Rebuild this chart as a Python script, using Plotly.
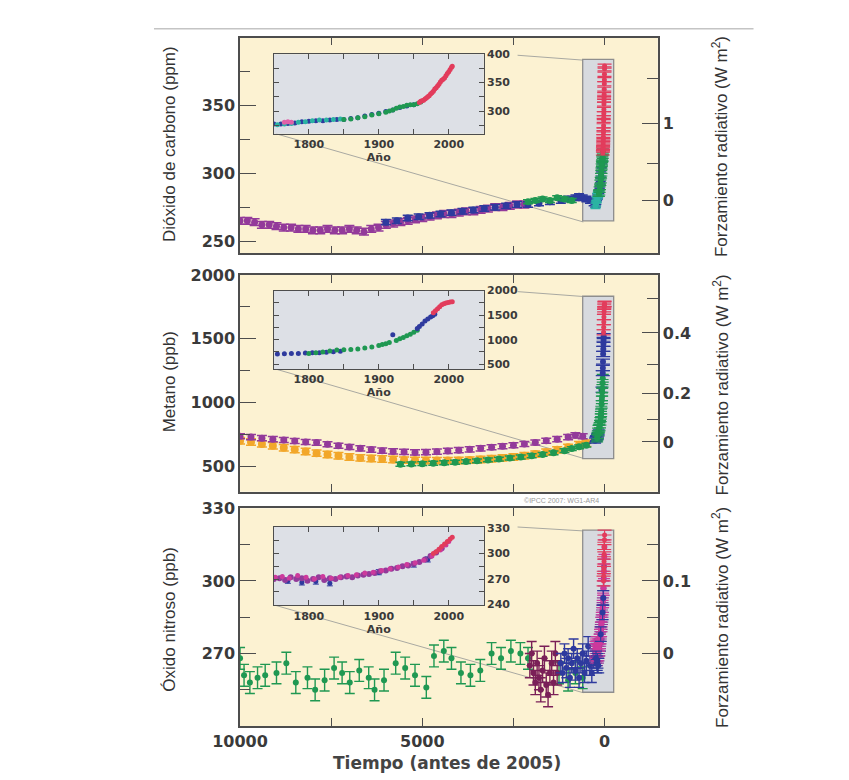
import plotly.graph_objects as go

# ---------------- DATA ----------------
# CO2 main panel (years before 2005, ppm)
co2_purple_bp = [10000,9800,9600,9400,9200,9000,8800,8600,8400,8200,8000,7800,7600,7400,7200,7000,6800,6600,6400,6200,6000,5800,5600,5400,5200,5000,4800,4600,4400,4200,4000,3800,3600,3400,3200,3000,2800,2600,2400,2200]
co2_purple_ppm = [265,265,264,262,262,261,260,260,259,259,258,258,259,258,258,259,258,257,259,260,262,263,264,265,266,267,268,269,270,270,271,272,272,273,274,275,275,276,277,277]
co2_blue_bp = [6000,5700,5400,5100,4800,4500,4200,3900,3600,3300,3000,2700,2400,2100,1800,1500,1200,1000,800,700,600,500,400,300]
co2_blue_ppm = [264,265,267,268,269,270,271,272,273,274,275,276,277,277,278,279,280,281,282,283,282,281,280,278]
co2_green_bp = [2100,1900,1700,1500,1300,1100,900]
co2_green_ppm = [279,280,281,280,282,281,280]
# CO2 inset (year AD, ppm)
co2_ins_blue_yr = [1750,1760,1770,1780,1790,1800,1810,1820,1830,1840,1850,1860,1870,1880,1890,1900,1910,1920,1930,1940,1950]
co2_ins_blue_ppm = [277,277,278,279,281,282,283,283,284,285,285,287,288,291,294,296,299,302,306,309,311]
co2_ins_cyan_yr = [1755,1765,1775,1785,1795,1805,1815,1825,1835,1845]
co2_ins_cyan_ppm = [276,277,278,280,281,283,284,284,285,286]
co2_ins_green_yr = [1850,1860,1870,1880,1890,1900,1910,1915,1920,1925,1930,1935,1940,1945,1950,1955,1960]
co2_ins_green_ppm = [285,286,288,290,293,295,298,300,302,305,307,308,310,311,311,313,316]
co2_ins_pink_yr = [1765,1770,1775]
co2_ins_pink_ppm = [280,281,280]
co2_ins_red_yr = [1958,1960,1962,1964,1966,1968,1970,1972,1974,1976,1978,1980,1982,1984,1986,1988,1990,1992,1994,1996,1998,2000,2002,2004,2005]
co2_ins_red_ppm = [315,317,318,319,321,323,325,327,330,332,335,339,341,344,347,351,354,356,358,362,366,369,373,377,379]

# CH4 main panel (years before 2005, ppb)
ch4_purple_bp = [10000,9700,9400,9100,8800,8500,8200,7900,7600,7300,7000,6700,6400,6100,5800,5500,5200,4900,4600,4300,4000,3700,3400,3100,2800,2500,2200,1900,1600,1300,1000,800,600]
ch4_purple_ppb = [735,728,720,712,705,698,690,685,672,660,650,640,630,622,616,612,608,610,614,620,626,632,640,648,656,664,674,686,700,712,728,742,735]
ch4_orange_bp = [10000,9700,9400,9100,8800,8500,8200,7900,7600,7300,7000,6700,6400,6100,5800,5500,5200,4900,4600,4300,4000,3700,3400,3100,2800,2500,2200,1900,1600,1300,1000,700,500]
ch4_orange_ppb = [700,690,675,660,645,630,615,602,592,582,572,565,560,556,552,548,546,545,544,544,545,548,552,558,565,572,582,595,610,628,648,668,680]
ch4_green_bp = [5600,5300,5000,4700,4400,4100,3800,3500,3200,2900,2600,2300,2000,1700,1400,1100,900,700,500]
ch4_green_ppb = [515,518,520,523,527,531,536,542,549,556,564,572,582,592,605,622,638,652,665]
# CH4 inset (year AD, ppb)
ch4_ins_blue_yr = [1745,1755,1765,1775,1785,1795,1805,1815,1825,1835,1845,1920]
ch4_ins_blue_ppb = [700,708,714,720,716,726,735,731,742,756,765,1100]
ch4_ins_green_yr = [1800,1810,1820,1830,1840,1850,1860,1870,1880,1890,1900,1905,1910,1915,1925,1930,1935,1940,1945,1950,1955]
ch4_ins_green_ppb = [720,735,748,768,790,792,800,812,830,852,880,900,918,940,985,1020,1045,1080,1110,1150,1190]
ch4_ins_blue2_yr = [1955,1958,1962,1966,1970,1974,1977,1980]
ch4_ins_blue2_ppb = [1230,1270,1320,1380,1420,1460,1490,1520]
ch4_ins_red_yr = [1978,1981,1984,1987,1990,1993,1996,1999,2002,2005]
ch4_ins_red_ppb = [1550,1590,1630,1670,1710,1730,1750,1760,1770,1774]

# N2O main panel (years before 2005, ppb)
n2o_green_bp = [10000,9890,9730,9520,9310,9000,8730,8470,8150,7940,7680,7420,7200,6990,6730,6470,6310,6050,5730,5470,5200,4890,4680,4410,4200,3940,3680,3410,3100,2840,2570,2310,2100,1250,1000,800,600]
n2o_green_ppb = [268,261,258,260,261,262,266,258,260,255,259,264,262,258,263,260,255,259,266,264,261,256,269,271,268,262,261,263,270,268,271,270,268,262,259,262,260]
n2o_maroon_bp = [2050,2000,1950,1900,1850,1800,1750,1700,1650,1600,1550,1500,1450,1400,1350,1300]
n2o_maroon_ppb = [265,270,262,258,266,260,255,263,268,257,253,262,266,258,270,262]
n2o_blue_bp = [1200,1150,1100,1050,1000,950,900,850,800,750,700,650,600,550,500,450,400,350,300,250,200,150,100]
n2o_blue_ppb = [266,262,270,264,268,260,266,272,263,268,260,266,270,262,267,273,265,262,268,271,266,272,275]
# N2O inset (year AD, ppb)
n2o_ins_purple_yr = [1750,1758,1766,1774,1782,1790,1798,1806,1814,1822,1830,1838,1846,1854,1862,1870,1878,1886,1894,1902,1910,1918,1926,1934,1942,1950,1958,1966,1974,1982,1990]
n2o_ins_purple_ppb = [270,271,269,272,270,271,268,270,272,269,271,270,272,273,272,274,275,276,277,279,280,282,283,285,286,288,290,293,297,301,306]
n2o_ins_magenta_yr = [1752,1762,1772,1784,1796,1808,1820,1832,1844,1856,1868,1880,1892,1904,1916,1928,1940,1952,1964,1976,1988,1996,2000]
n2o_ins_magenta_ppb = [272,273,271,274,272,270,273,271,272,274,275,277,278,280,282,284,287,289,292,297,304,310,314]
n2o_ins_blue_yr = [1770,1790,1810,1830,1900,1950,1970]
n2o_ins_blue_ppb = [268,266,267,265,278,287,293]
n2o_ins_red_yr = [1978,1982,1986,1990,1994,1998,2002,2005]
n2o_ins_red_ppb = [300,302,305,308,311,314,317,319]

# Radiative forcing tick positions (concentration values where RF ticks sit)
co2_rf_major_at = [280, 337]
co2_rf_major_txt = ["0", "1"]
co2_rf_minor_at = [307, 370]
ch4_rf_major_at = [690, 1070, 1545]
ch4_rf_major_txt = ["0", "0.2", "0.4"]
ch4_rf_minor_at = [870, 1300, 1815]
n2o_rf_major_at = [270, 300]
n2o_rf_major_txt = ["0", "0.1"]
n2o_rf_minor_at = [285, 315]

# Time axis ticks (years before 2005)
time_major = [10000, 5000, 0]
time_major_txt = ["10000", "5000", "0"]
time_minor = [7500, 2500]

REF_YEAR = 2005

# ---------------- STYLE ----------------
W, H = 849, 780
OFF = 8  # page body margin of the html page
CREAM = "#fcf2d2"
INSET_BG = "#dde0e6"
BOX_FILL = "#d7dadf"
AXC = "#4d4d4d"
TXT = "#3a3a3a"
PURPLE = "#933a9a"
BLUE = "#2e3a9e"
GREEN = "#1f9852"
TEAL = "#2bb3a3"
RED = "#e23c5c"
PINK = "#e060a8"
ORANGE = "#f2a72a"
MAROON = "#7a2058"
MAGENTA = "#cc3a9c"

def px2x(px):
    return (px - OFF) / W

def px2y(py):
    return 1 - (py - OFF) / H

def bp(years):
    return [REF_YEAR - y for y in years]

fig = go.Figure()

def pts(xs, ys, color, xa, ya, err=None, size=5, capw=4, thick=1.2, symbol="circle"):
    tr = go.Scatter(x=xs, y=ys, mode="markers",
                    marker=dict(color=color, size=size, symbol=symbol, line=dict(width=0)),
                    xaxis=xa, yaxis=ya, showlegend=False, hoverinfo="skip")
    if err is not None:
        tr.error_y = dict(type="constant", value=err, color=color, thickness=thick, width=capw)
    fig.add_trace(tr)

# Panel 1: CO2
pts(co2_purple_bp, co2_purple_ppm, PURPLE, "x", "y", err=2.5, size=7, capw=5, thick=1.5)
pts(co2_blue_bp, co2_blue_ppm, BLUE, "x", "y", err=2, size=7, capw=5, thick=1.5)
pts(co2_green_bp, co2_green_ppm, GREEN, "x", "y", err=1.5, size=7, capw=5, thick=1.5)
pts(bp(co2_ins_blue_yr), co2_ins_blue_ppm, BLUE, "x", "y", err=2, size=6, capw=5)
pts(bp(co2_ins_cyan_yr), co2_ins_cyan_ppm, TEAL, "x", "y", err=2, size=6, capw=5)
pts(bp(co2_ins_green_yr), co2_ins_green_ppm, GREEN, "x", "y", err=2, size=6, capw=6)
pts(bp(co2_ins_red_yr), co2_ins_red_ppm, RED, "x", "y", err=1.5, size=5, capw=7)
fig.add_trace(go.Scatter(x=[None], y=[None], xaxis="x", yaxis="y2", showlegend=False, hoverinfo="skip"))
# CO2 inset
pts(co2_ins_blue_yr, co2_ins_blue_ppm, BLUE, "x4", "y7", size=5)
pts(co2_ins_cyan_yr, co2_ins_cyan_ppm, TEAL, "x4", "y7", size=5)
pts(co2_ins_green_yr, co2_ins_green_ppm, GREEN, "x4", "y7", size=5)
pts(co2_ins_pink_yr, co2_ins_pink_ppm, PINK, "x4", "y7", size=5)
pts(co2_ins_red_yr, co2_ins_red_ppm, RED, "x4", "y7", size=5)

# Panel 2: CH4
pts(ch4_orange_bp, ch4_orange_ppb, ORANGE, "x2", "y3", err=25, size=8, capw=5, thick=1.5)
pts(ch4_purple_bp, ch4_purple_ppb, PURPLE, "x2", "y3", err=20, size=7, capw=5, thick=1.5)
pts(ch4_green_bp, ch4_green_ppb, GREEN, "x2", "y3", err=15, size=7, capw=5, thick=1.5)
pts(bp(ch4_ins_blue_yr), ch4_ins_blue_ppb, BLUE, "x2", "y3", err=20, size=6, capw=6)
pts(bp(ch4_ins_green_yr), ch4_ins_green_ppb, GREEN, "x2", "y3", err=30, size=6, capw=6)
pts(bp(ch4_ins_blue2_yr), ch4_ins_blue2_ppb, BLUE, "x2", "y3", err=20, size=6, capw=7)
pts(bp(ch4_ins_red_yr), ch4_ins_red_ppb, RED, "x2", "y3", err=20, size=5, capw=7)
fig.add_trace(go.Scatter(x=[None], y=[None], xaxis="x2", yaxis="y4", showlegend=False, hoverinfo="skip"))
# CH4 inset
pts(ch4_ins_blue_yr, ch4_ins_blue_ppb, BLUE, "x5", "y8", size=5)
pts(ch4_ins_green_yr, ch4_ins_green_ppb, GREEN, "x5", "y8", size=5)
pts(ch4_ins_blue2_yr, ch4_ins_blue2_ppb, BLUE, "x5", "y8", size=5)
pts(ch4_ins_red_yr, ch4_ins_red_ppb, RED, "x5", "y8", size=5)

# Panel 3: N2O
pts(n2o_green_bp, n2o_green_ppb, GREEN, "x3", "y5", err=4.5, size=6, capw=5, thick=1.4)
pts(n2o_maroon_bp, n2o_maroon_ppb, MAROON, "x3", "y5", err=5, size=6, capw=5, thick=1.4)
pts(n2o_blue_bp, n2o_blue_ppb, BLUE, "x3", "y5", err=4, size=6, capw=5, thick=1.4)
pts(bp(n2o_ins_purple_yr), n2o_ins_purple_ppb, PURPLE, "x3", "y5", err=3, size=6, capw=6)
pts(bp(n2o_ins_magenta_yr), n2o_ins_magenta_ppb, MAGENTA, "x3", "y5", err=3, size=6, capw=6)
pts(bp(n2o_ins_blue_yr), n2o_ins_blue_ppb, BLUE, "x3", "y5", err=3, size=6, capw=6)
pts(bp(n2o_ins_red_yr), n2o_ins_red_ppb, RED, "x3", "y5", err=2, size=5, capw=7)
fig.add_trace(go.Scatter(x=[None], y=[None], xaxis="x3", yaxis="y6", showlegend=False, hoverinfo="skip"))
# N2O inset
pts(n2o_ins_blue_yr, n2o_ins_blue_ppb, BLUE, "x6", "y9", err=3, size=5, capw=3, thick=1)
pts(n2o_ins_purple_yr, n2o_ins_purple_ppb, PURPLE, "x6", "y9", size=6)
pts(n2o_ins_magenta_yr, n2o_ins_magenta_ppb, MAGENTA, "x6", "y9", size=5)
pts(n2o_ins_red_yr, n2o_ins_red_ppb, RED, "x6", "y9", size=5)

# ---------------- AXES ----------------
TICKF = dict(family="DejaVu Sans", size=16, color=TXT, weight="bold")
INSF = dict(family="DejaVu Sans", size=11, color=TXT, weight="bold")
XD = [px2x(219), px2x(651)]
INS_XD = [px2x(254), px2x(471)]
X_RANGE = [10000, -1460]

def main_x(anchor, labels):
    d = dict(domain=XD, anchor=anchor, range=X_RANGE, tickmode="array",
             tickvals=time_major, ticks="inside", ticklen=8, tickwidth=1.3, tickcolor=AXC,
             minor=dict(tickmode="array", tickvals=time_minor, ticks="inside", ticklen=8,
                        tickwidth=1.3, tickcolor=AXC, showgrid=False),
             showline=True, linecolor=AXC, linewidth=1.6, mirror="ticks",
             showgrid=False, zeroline=False,
             tickfont=dict(family="DejaVu Sans", size=16, color=TXT, weight="bold"))
    if labels:
        d["ticktext"] = time_major_txt
    else:
        d["ticktext"] = [""] * len(time_major)
        d["showticklabels"] = False
    return d

def main_yl(domain, anchor, rng, major, minor_dtick):
    return dict(domain=domain, anchor=anchor, range=rng, tickmode="array", tickvals=major,
                ticks="inside", ticklen=16, tickwidth=1.3, tickcolor=AXC,
                minor=dict(tickmode="linear", tick0=major[0], dtick=minor_dtick, ticks="inside",
                           ticklen=10, tickwidth=1.3, tickcolor=AXC, showgrid=False),
                showline=True, linecolor=AXC, linewidth=1.6, mirror=False,
                showgrid=False, zeroline=False, tickfont=TICKF)

def main_yr(over, anchor, rng, major, txt, minor):
    return dict(overlaying=over, anchor=anchor, side="right", range=rng, tickmode="array",
                tickvals=major, ticktext=txt, ticks="inside", ticklen=16, tickwidth=1.3,
                tickcolor=AXC,
                minor=dict(tickmode="array", tickvals=minor, ticks="inside", ticklen=11,
                           tickwidth=1.3, tickcolor=AXC, showgrid=False),
                showline=True, linecolor=AXC, linewidth=1.6, showgrid=False, zeroline=False,
                tickfont=TICKF)

def inset_x(anchor):
    return dict(domain=INS_XD, anchor=anchor, range=[1750, 2050], tickmode="array",
                tickvals=[1800, 1900, 2000], ticks="inside", ticklen=5, tickcolor=AXC,
                minor=dict(tickmode="linear", tick0=1750, dtick=50, ticks="inside", ticklen=5,
                           tickcolor=AXC, showgrid=False),
                showline=True, linecolor=AXC, linewidth=1.2, mirror="ticks",
                showgrid=False, zeroline=False, tickfont=INSF,
                title=dict(text="Año", font=INSF, standoff=0))

def inset_y(domain, anchor, rng, major, minor_dtick):
    return dict(domain=domain, anchor=anchor, side="right", range=rng, tickmode="array",
                tickvals=major, ticks="inside", ticklen=5, tickcolor=AXC,
                minor=dict(tickmode="linear", tick0=major[0], dtick=minor_dtick, ticks="inside",
                           ticklen=5, tickcolor=AXC, showgrid=False),
                showline=True, linecolor=AXC, linewidth=1.2, mirror="ticks",
                showgrid=False, zeroline=False, tickfont=INSF)

P1 = [px2y(249), px2y(29)]
P2 = [px2y(492), px2y(271)]
P3 = [px2y(731), px2y(509)]
R1, R2, R3 = [241, 400], [300, 2000], [240, 330]

fig.update_layout(
    xaxis=main_x("y", False),
    yaxis=main_yl(P1, "x", R1, [250, 300, 350], 25),
    yaxis2=main_yr("y", "x", R1, co2_rf_major_at, co2_rf_major_txt, co2_rf_minor_at),
    xaxis2=main_x("y3", False),
    yaxis3=main_yl(P2, "x2", R2, [500, 1000, 1500, 2000], 250),
    yaxis4=main_yr("y3", "x2", R2, ch4_rf_major_at, ch4_rf_major_txt, ch4_rf_minor_at),
    xaxis3=main_x("y5", True),
    yaxis5=main_yl(P3, "x3", R3, [270, 300, 330], 15),
    yaxis6=main_yr("y5", "x3", R3, n2o_rf_major_at, n2o_rf_major_txt, n2o_rf_minor_at),
    xaxis4=inset_x("y7"),
    yaxis7=inset_y([px2y(127), px2y(46)], "x4", [260, 400], [300, 350, 400], 25),
    xaxis5=inset_x("y8"),
    yaxis8=inset_y([px2y(367), px2y(287)], "x5", [400, 2000], [500, 1000, 1500, 2000], 250),
    xaxis6=inset_x("y9"),
    yaxis9=inset_y([px2y(608), px2y(528)], "x6", [239, 331], [240, 270, 300, 330], 15),
)

# ---------------- SHAPES ----------------
shapes = []
for xa, ya in [("x", "y"), ("x2", "y3"), ("x3", "y5")]:
    shapes.append(dict(type="rect", xref=xa + " domain", yref=ya + " domain", x0=0, x1=1, y0=0, y1=1,
                       fillcolor=CREAM, line=dict(width=0), layer="below"))
# highlight boxes (data coords of main panels)
shapes.append(dict(type="rect", xref="x", yref="y", x0=600, x1=-250, y0=265, y1=384,
                   fillcolor=BOX_FILL, line=dict(color="#8e8e8e", width=1.3), layer="below"))
shapes.append(dict(type="rect", xref="x2", yref="y3", x0=600, x1=-250, y0=560, y1=1833,
                   fillcolor=BOX_FILL, line=dict(color="#8e8e8e", width=1.3), layer="below"))
shapes.append(dict(type="rect", xref="x3", yref="y5", x0=600, x1=-250, y0=254, y1=321,
                   fillcolor=BOX_FILL, line=dict(color="#8e8e8e", width=1.3), layer="below"))

# connector lines, in main-panel domain fractions from pixel positions
def dom_line(xa, ya, top, bot, p0, p1):
    fx = lambda px: (px - 219) / (651 - 219)
    fy = lambda py: (bot - py) / (bot - top)
    return dict(type="line", xref=xa + " domain", yref=ya + " domain",
                x0=fx(p0[0]), y0=fy(p0[1]), x1=fx(p1[0]), y1=fy(p1[1]),
                line=dict(color="#a9a9a2", width=1), layer="below")

shapes.append(dom_line("x", "y", 29, 249, (506, 47), (574, 52)))
shapes.append(dom_line("x", "y", 29, 249, (256, 127), (574, 217)))
shapes.append(dom_line("x2", "y3", 271, 492, (506, 288), (574, 293)))
shapes.append(dom_line("x2", "y3", 271, 492, (256, 367), (574, 458)))
shapes.append(dom_line("x3", "y5", 509, 731, (506, 528), (574, 532)))
shapes.append(dom_line("x3", "y5", 509, 731, (256, 608), (574, 697)))

for xa, ya in [("x4", "y7"), ("x5", "y8"), ("x6", "y9")]:
    shapes.append(dict(type="rect", xref=xa + " domain", yref=ya + " domain", x0=0, x1=1, y0=0, y1=1,
                       fillcolor=INSET_BG, line=dict(width=0), layer="below"))

shapes.append(dict(type="line", xref="paper", yref="paper", x0=px2x(130), x1=px2x(750),
                   y0=px2y(20), y1=px2y(20), line=dict(color="#c4c4c4", width=1.5)))

# ---------------- ANNOTATIONS ----------------
NARROW = "Liberation Sans Narrow, Arial Narrow, Liberation Sans, sans-serif"
TITLEF = dict(family=NARROW, size=17, color="#333333")
ann = []
for txt, cy in [("Dióxido de carbono (ppm)", 137), ("Metano (ppb)", 380), ("Óxido nitroso (ppb)", 622)]:
    ann.append(dict(text=txt, x=px2x(146), y=px2y(cy), xref="paper", yref="paper", showarrow=False,
                    textangle=-90, font=TITLEF, xanchor="center", yanchor="middle"))
for cy in [140, 383, 620]:
    ann.append(dict(text="Forzamiento radiativo (W m<sup>2</sup>)", x=px2x(716), y=px2y(cy), xref="paper",
                    yref="paper", showarrow=False, textangle=-90, font=TITLEF,
                    xanchor="center", yanchor="middle"))
ann.append(dict(text="Tiempo (antes de 2005)", x=px2x(433), y=px2y(769), xref="paper", yref="paper",
                showarrow=False, font=dict(family="DejaVu Sans", size=17, color="#444444", weight="bold"),
                xanchor="center", yanchor="middle"))
ann.append(dict(text="©IPCC 2007: WG1-AR4", x=px2x(592), y=px2y(501), xref="paper", yref="paper",
                showarrow=False, font=dict(family="Liberation Sans", size=7, color="#9a9a9a"),
                xanchor="right", yanchor="middle"))

fig.update_layout(shapes=shapes, annotations=ann, width=W, height=H,
                  margin=dict(l=0, r=0, t=0, b=0), paper_bgcolor="white",
                  plot_bgcolor="rgba(0,0,0,0)", showlegend=False)

fig.write_html("out.html")
